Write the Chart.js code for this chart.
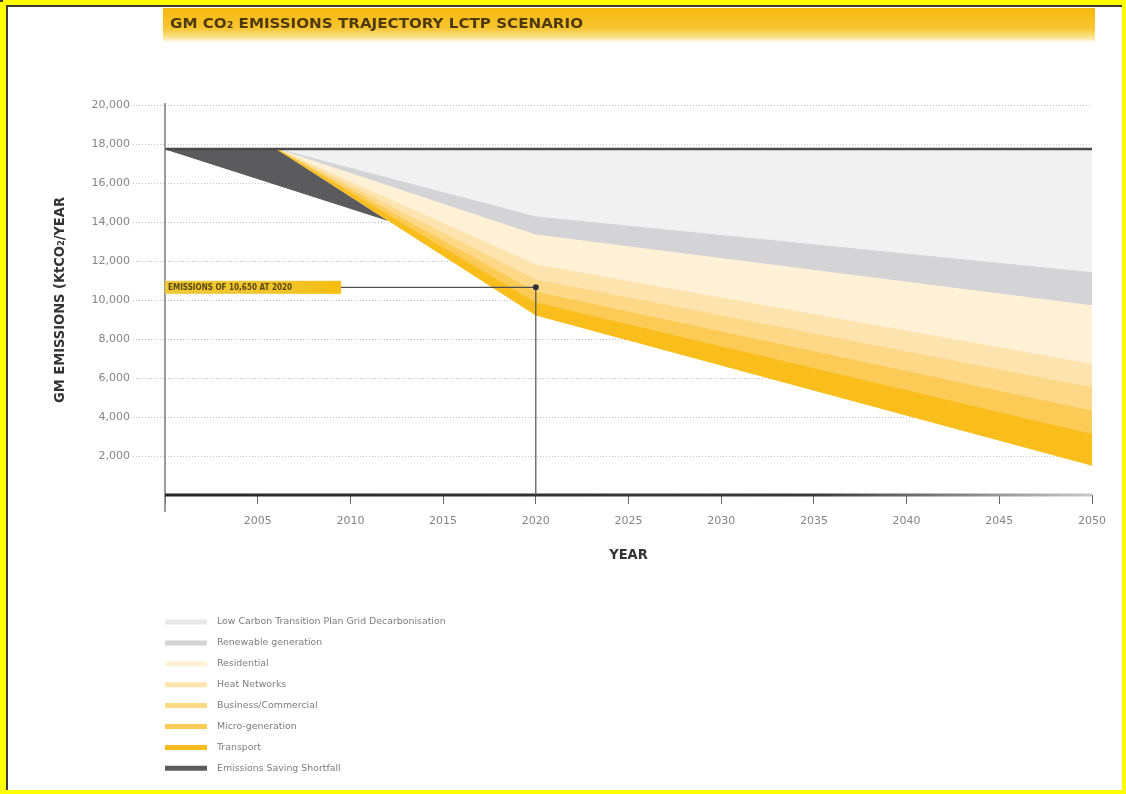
<!DOCTYPE html>
<html>
<head>
<meta charset="utf-8">
<script src="https://cdn.jsdelivr.net/npm/chart.js@4/dist/chart.umd.min.js"></script>
<style>
  html, body { margin: 0; padding: 0; background: #fff; }
  canvas { display: block; }
</style>
</head>
<body>
<canvas id="c" width="1126" height="794"></canvas>
<script>
// Emissions actually reached (ktCO2/yr) at the years where the path changes slope
const TRAJECTORY_YEARS = [2000, 2006, 2020, 2050];
const TRAJECTORY_VALUES = [17750, 17750, 9200, 1500];

// Savings from each measure (ktCO2/yr), stacked on top of the trajectory
const BAND_YEARS = [2006, 2020, 2050];
const TRANSPORT = [0, 650, 1600];
const MICRO_GENERATION = [0, 550, 1200];
const BUSINESS_COMMERCIAL = [0, 630, 1200];
const HEAT_NETWORKS = [0, 770, 1200];
const RESIDENTIAL = [0, 1530, 3000];
const RENEWABLE_GENERATION = [0, 930, 1700];
const GRID_DECARBONISATION = [0, 3490, 6350];

// Target path; the gap down to the trajectory is the shortfall
const SHORTFALL_YEARS = [2000, 2012];
const SHORTFALL_VALUES = [17750, 14090];

// Baseline level
const BASELINE_YEARS = [2000, 2050];
const BASELINE_VALUES = [17750, 17750];

// Highlighted 2020 figure
const MARKER_YEAR = 2020;
const MARKER_VALUE = 10650;

// Axis ticks
const X_TICKS = [2000, 2005, 2010, 2015, 2020, 2025, 2030, 2035, 2040, 2045, 2050];
const Y_TICKS = [0, 2000, 4000, 6000, 8000, 10000, 12000, 14000, 16000, 18000, 20000];

const CHART_TITLE = 'GM CO\u2082 EMISSIONS TRAJECTORY LCTP SCENARIO';
const Y_TITLE = 'GM EMISSIONS (KtCO\u2082/YEAR';
const X_TITLE = 'YEAR';

const pts = (years, values) => years.map((x, i) => ({ x, y: values[i] }));

const band = (label, values, color) => ({
  label,
  data: pts(BAND_YEARS, values),
  stack: 'bands',
  fill: '-1',
  backgroundColor: color,
  borderColor: color,
  borderWidth: 1,
  pointRadius: 0
});

const datasets = [
  {
    label: 'trajectory',
    data: pts(TRAJECTORY_YEARS, TRAJECTORY_VALUES),
    stack: 'bands',
    fill: false,
    borderWidth: 0,
    borderColor: 'rgba(0,0,0,0)',
    pointRadius: 0
  },
  band('Transport', TRANSPORT, '#f9be1b'),
  band('Micro-generation', MICRO_GENERATION, '#fbcb55'),
  band('Business/Commercial', BUSINESS_COMMERCIAL, '#fcd887'),
  band('Heat Networks', HEAT_NETWORKS, '#fde4ae'),
  band('Residential', RESIDENTIAL, '#fef1d6'),
  band('Renewable generation', RENEWABLE_GENERATION, '#d4d4d6'),
  band('Low Carbon Transition Plan Grid Decarbonisation', GRID_DECARBONISATION, '#f1f1f1'),
  {
    label: 'Emissions Saving Shortfall',
    data: pts(SHORTFALL_YEARS, SHORTFALL_VALUES),
    stack: 'shortfall',
    fill: { target: 0 },
    backgroundColor: '#5b5b5d',
    borderColor: '#5b5b5d',
    borderWidth: 1,
    pointRadius: 0
  },
  {
    label: 'baseline',
    data: pts(BASELINE_YEARS, BASELINE_VALUES),
    stack: 'baseline',
    fill: false,
    borderColor: '#4a4a4a',
    borderWidth: 2.5,
    pointRadius: 0,
    order: -1
  }
];

// Legend rows, top to bottom
const LEGEND_ORDER = [
  'Low Carbon Transition Plan Grid Decarbonisation',
  'Renewable generation',
  'Residential',
  'Heat Networks',
  'Business/Commercial',
  'Micro-generation',
  'Transport',
  'Emissions Saving Shortfall'
];

// Draws text squeezed or stretched to a given width
function fitText(ctx, text, x, y, width) {
  const w = ctx.measureText(text).width;
  ctx.save();
  ctx.translate(x, y);
  ctx.scale(width / w, 1);
  ctx.fillText(text, 0, 0);
  ctx.restore();
}

const decor = {
  id: 'decor',
  beforeDraw(chart) {
    const ctx = chart.ctx;
    ctx.save();
    ctx.fillStyle = '#ffffff';
    ctx.fillRect(0, 0, chart.width, chart.height);
    ctx.restore();
  },
  afterDatasetsDraw(chart) {
    const ctx = chart.ctx;
    const xs = chart.scales.x, ys = chart.scales.y;
    const area = chart.chartArea;
    ctx.save();

    // vertical axis line
    ctx.strokeStyle = '#7a7a7a';
    ctx.lineWidth = 1.5;
    ctx.beginPath();
    ctx.moveTo(area.left, area.top - 2);
    ctx.lineTo(area.left, area.bottom + 17);
    ctx.stroke();

    // heavy horizontal axis line, fading to the right
    const g = ctx.createLinearGradient(area.left, 0, area.right, 0);
    g.addColorStop(0, '#262626');
    g.addColorStop(0.7, '#3a3a3a');
    g.addColorStop(1, '#c8c8c8');
    ctx.strokeStyle = g;
    ctx.lineWidth = 3;
    ctx.beginPath();
    ctx.moveTo(area.left, ys.getPixelForValue(0));
    ctx.lineTo(area.right, ys.getPixelForValue(0));
    ctx.stroke();

    // 2020 marker: label box, leader lines and dot
    const mx = xs.getPixelForValue(MARKER_YEAR);
    const my = ys.getPixelForValue(MARKER_VALUE);
    const boxL = area.left, boxR = area.left + 176, boxH = 13;
    const bg = ctx.createLinearGradient(boxL, 0, boxR, 0);
    bg.addColorStop(0, '#eec935');
    bg.addColorStop(0.7, '#f1c52a');
    bg.addColorStop(1, '#f6bd0c');
    ctx.fillStyle = bg;
    ctx.fillRect(boxL, my - boxH / 2, boxR - boxL, boxH);

    ctx.fillStyle = '#5a4810';
    ctx.font = 'bold 8px "DejaVu Sans"';
    ctx.fontStretch = 'condensed';
    ctx.textBaseline = 'middle';
    ctx.textAlign = 'left';
    const label = 'EMISSIONS OF ' + MARKER_VALUE.toLocaleString('en-US') + ' AT ' + MARKER_YEAR;
    fitText(ctx, label, boxL + 3, my + 0.5, 124);

    ctx.strokeStyle = '#505050';
    ctx.lineWidth = 1.2;
    ctx.beginPath();
    ctx.moveTo(boxR, my);
    ctx.lineTo(mx, my);
    ctx.lineTo(mx, ys.getPixelForValue(0));
    ctx.stroke();
    ctx.fillStyle = '#333';
    ctx.beginPath();
    ctx.arc(mx, my, 3, 0, Math.PI * 2);
    ctx.fill();

    ctx.restore();
  },
  afterDraw(chart) {
    const ctx = chart.ctx;
    ctx.save();

    // frame
    ctx.fillStyle = '#ffff00';
    ctx.fillRect(0, 0, chart.width, 5);
    ctx.fillRect(0, 0, 6, chart.height);
    ctx.fillRect(chart.width - 4, 0, 4, chart.height);
    ctx.fillRect(0, chart.height - 4, chart.width, 4);
    ctx.fillStyle = '#3a3a3a';
    ctx.fillRect(6, 5, chart.width - 10, 2);
    ctx.fillRect(6, 5, 2, chart.height - 9);
    ctx.fillRect(0, 0, 3, 2);

    // title bar
    const tx0 = 163, tx1 = 1095, ty0 = 8, ty1 = 42;
    const tg = ctx.createLinearGradient(0, ty0, 0, ty1);
    tg.addColorStop(0, '#f5b80c');
    tg.addColorStop(0.6, '#f8c633');
    tg.addColorStop(0.85, '#fbe08a');
    tg.addColorStop(1, '#fffaf0');
    ctx.fillStyle = tg;
    ctx.fillRect(tx0, ty0, tx1 - tx0, ty1 - ty0);
    ctx.fillStyle = '#4e3a0a';
    ctx.font = 'bold 14px "DejaVu Sans"';
    ctx.fontStretch = 'condensed';
    ctx.textBaseline = 'middle';
    ctx.textAlign = 'left';
    fitText(ctx, CHART_TITLE, 170, 24, 413);

    // legend
    const rowY = 622, rowStep = 20.9;
    ctx.font = '9.4px "DejaVu Sans"';
    ctx.fontStretch = 'normal';
    LEGEND_ORDER.forEach((name, i) => {
      const ds = chart.data.datasets.find(d => d.label === name);
      const y = rowY + i * rowStep;
      ctx.strokeStyle = name.startsWith('Low Carbon') ? '#e8e8e8' : ds.backgroundColor;
      ctx.lineWidth = 5;
      ctx.beginPath();
      ctx.moveTo(165, y);
      ctx.lineTo(207, y);
      ctx.stroke();
      ctx.fillStyle = '#7d7d7d';
      ctx.fillText(name, 217, y);
    });

    ctx.restore();
  }
};

const tickFont = { family: 'DejaVu Sans', size: 11 };
const titleFont = { family: '"DejaVu Sans Condensed", "DejaVu Sans"', size: 14.5, weight: 'bold' };
const hideZero = c => (c.tick && c.tick.value === 0) ? 'rgba(0,0,0,0)' : '#c4c4c4';

new Chart(document.getElementById('c'), {
  type: 'line',
  data: { datasets },
  options: {
    responsive: false,
    animation: false,
    devicePixelRatio: 1,
    layout: { padding: { top: 105, right: 34, bottom: 0, left: 0 } },
    elements: { line: { tension: 0 } },
    plugins: { legend: { display: false }, tooltip: { enabled: false } },
    scales: {
      x: {
        type: 'linear',
        min: 2000,
        max: 2050,
        afterFit(s) { s.height = 299; },
        afterBuildTicks(s) { s.ticks = X_TICKS.map(v => ({ value: v })); },
        ticks: {
          callback: v => (v === 2000 ? '' : String(v)),
          padding: 11,
          color: '#858585',
          font: tickFont,
          maxRotation: 0,
          autoSkip: false
        },
        grid: { drawOnChartArea: false, drawTicks: true, tickLength: 9, tickColor: '#666', tickWidth: 1 },
        border: { display: false },
        title: { display: true, text: X_TITLE, color: '#333', font: titleFont, padding: { top: 0, bottom: 230 } }
      },
      y: {
        stacked: true,
        min: 0,
        max: 20000,
        afterFit(s) { s.width = 165; },
        afterBuildTicks(s) { s.ticks = Y_TICKS.map(v => ({ value: v })); },
        ticks: {
          callback: v => (v === 0 ? '' : v.toLocaleString('en-US')),
          padding: 3,
          color: '#858585',
          font: tickFont
        },
        grid: {
          color: hideZero,
          tickLength: 32,
          tickBorderDash: [1, 2],
          tickColor: hideZero
        },
        border: { display: false, dash: [1, 2] },
        title: { display: true, text: Y_TITLE, color: '#333', font: titleFont, padding: { top: 52, bottom: 0 } }
      }
    }
  },
  plugins: [decor]
});
</script>
</body>
</html>
